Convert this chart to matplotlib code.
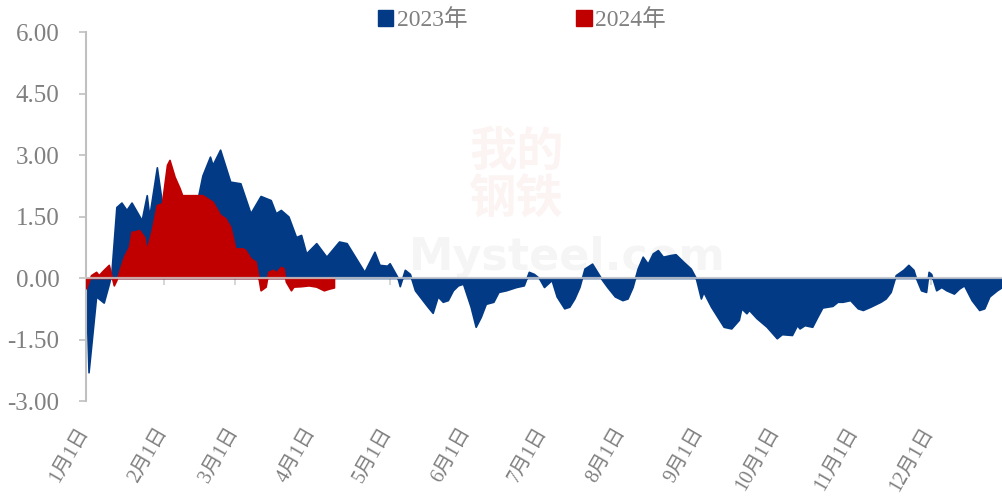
import matplotlib
matplotlib.use("Agg")
import matplotlib.pyplot as plt
import matplotlib.transforms as mtransforms
from matplotlib.patches import Patch
import numpy as np

plt.rcParams['font.family'] = ['Liberation Serif', 'Noto Sans CJK SC', 'DejaVu Sans']

# day-of-year (0 = Jan 1) and values
days_2023 = [0, 1, 4, 7, 9, 10, 12, 14, 16, 18, 22, 24, 25, 28, 30, 33, 36, 40, 44, 46, 49, 50, 53, 57,
             61, 65, 69, 73, 75, 77, 80, 83, 85, 87, 91, 95, 100, 103, 110, 114, 116, 119, 120, 123,
             124, 126, 128, 130, 135, 137, 139, 141, 143, 145, 147, 149, 152, 154, 156, 158, 161, 163,
             166, 170, 173, 175, 177, 179, 181, 184, 186, 189, 191, 193, 195, 197, 200, 202, 204, 206,
             209, 212, 214, 216, 218, 220, 222, 224, 226, 228, 231, 233, 236, 239, 241, 243, 244, 247,
             252, 255, 258, 259, 261, 262, 265, 269, 273, 275, 279, 281, 282, 284, 287, 289, 291, 295,
             297, 299, 302, 305, 307, 310, 314, 316, 318, 320, 323, 325, 327, 328, 330, 332, 333, 334,
             336, 338, 340, 343, 345, 347, 350, 353, 355, 357, 360, 362]
vals_2023 = [-0.25, -2.3, -0.45, -0.6, -0.15, 0.1, 1.73, 1.84, 1.66, 1.84, 1.41, 2.02, 1.5, 2.7, 1.83,
             1.7, 1.75, 1.8, 1.9, 2.5, 2.96, 2.76, 3.13, 2.35,
             2.31, 1.58, 2.0, 1.9, 1.58, 1.66, 1.5, 1.0, 1.05, 0.6, 0.85, 0.52, 0.89, 0.85, 0.15, 0.64,
             0.32, 0.3, 0.36, 0.03,
             -0.2, 0.2, 0.1, -0.3, -0.7, -0.85, -0.45, -0.58, -0.54, -0.3, -0.18, -0.14, -0.7, -1.19,
             -0.95, -0.63, -0.58, -0.34,
             -0.3, -0.22, -0.18, 0.15, 0.1, 0.0, -0.22, -0.05, -0.45, -0.74, -0.7, -0.5, -0.22, 0.23,
             0.35, 0.15, -0.05, -0.22,
             -0.45, -0.54, -0.5, -0.22, 0.23, 0.52, 0.35, 0.6, 0.68, 0.52, 0.56, 0.58, 0.4, 0.23, 0.0,
             -0.5, -0.34, -0.7,
             -1.19, -1.23, -1.02, -0.74, -0.86, -0.78, -0.98, -1.19, -1.47, -1.37, -1.39, -1.15, -1.23,
             -1.15, -1.19, -0.95, -0.72, -0.68,
             -0.58, -0.58, -0.54, -0.74, -0.78, -0.7, -0.58, -0.5, -0.34, 0.07, 0.2, 0.32, 0.2, 0.0,
             -0.3, -0.34, 0.15, 0.1,
             -0.3, -0.22, -0.3, -0.38, -0.26, -0.18, -0.54, -0.78, -0.74, -0.45, -0.3, -0.22]

days_2024 = [0, 2, 4, 5, 7, 9, 11, 12, 15, 17, 18, 19, 21, 23, 24, 26, 28, 30, 32, 33, 35, 37, 38,
             46, 48, 50, 53, 55, 57, 59, 62, 63, 65, 67, 68, 69, 71, 72, 74, 75, 77, 78, 79, 81, 82,
             85, 88, 91, 94, 96, 98]
vals_2024 = [-0.25, 0.07, 0.15, 0.07, 0.2, 0.32, -0.18, -0.05, 0.52, 0.76, 1.13, 1.13, 1.17, 1.0, 0.68,
             1.17, 1.78, 1.82, 2.76, 2.88, 2.47, 2.19, 2.02,
             2.02, 1.94, 1.86, 1.54, 1.46, 1.25, 0.72, 0.72, 0.68, 0.48, 0.4, 0.07, -0.3, -0.21, 0.15,
             0.2, 0.13, 0.27, 0.24, -0.09, -0.3, -0.21,
             -0.2, -0.18, -0.21, -0.3, -0.26, -0.23]

month_start_days = [0, 31, 59, 90, 120, 151, 181, 212, 243, 273, 304, 334]
month_labels = ['1月1日', '2月1日', '3月1日', '4月1日', '5月1日', '6月1日',
                '7月1日', '8月1日', '9月1日', '10月1日', '11月1日', '12月1日']
series_names = ['2023年', '2024年']
y_ticks = [-3.0, -1.5, 0.0, 1.5, 3.0, 4.5, 6.0]

BLUE = '#023A86'
RED = '#C00000'
GRAY_TXT = '#808080'
AX_GRAY = '#c0c0c0'

W, H = 1002, 499
fig = plt.figure(figsize=(W / 100, H / 100), dpi=100)
ax = fig.add_axes([86 / W, 1 - 401 / H, (1002 - 86) / W, (401 - 32) / H])

# watermark
ax.text(0.47, 0.61, '我的\n钢铁', transform=ax.transAxes, ha='center', va='center',
        fontsize=34, color='#d04040', alpha=0.06, fontweight='bold',
        family=['Noto Sans CJK SC'], linespacing=1.0, zorder=0.5)
ax.text(0.525, 0.39, 'Mysteel.com', transform=ax.transAxes, ha='center', va='center',
        fontsize=32, color='#a0a0a0', alpha=0.1, fontweight='bold',
        family=['DejaVu Sans'], zorder=0.5)

ax.fill_between(days_2023, vals_2023, 0, color=BLUE, edgecolor=BLUE, linewidth=1.2, zorder=2)
ax.fill_between(days_2024, vals_2024, 0, color=RED, edgecolor=RED, linewidth=1.2, zorder=3)

ax.set_xlim(0, 362)
ax.set_ylim(-3, 6)

for s in ['top', 'right']:
    ax.spines[s].set_visible(False)
ax.spines['left'].set_color(AX_GRAY)
ax.spines['left'].set_linewidth(1.5)
ax.spines['bottom'].set_position(('data', 0))
ax.spines['bottom'].set_color('#d0d0d0')
ax.spines['bottom'].set_alpha(0.8)
ax.spines['bottom'].set_linewidth(1.6)
ax.spines['bottom'].set_zorder(5)

ax.set_yticks(y_ticks)
ax.set_yticklabels([f'{v:.2f}' for v in y_ticks])
ax.set_xticks(month_start_days)
ax.set_xticklabels(month_labels)

ax.tick_params(axis='y', direction='out', length=5, width=1.2, color=AX_GRAY,
               labelsize=18, labelcolor=GRAY_TXT, pad=14)
ax.tick_params(axis='x', direction='out', length=5, width=1.2, color='#d0d0d0',
               labelsize=14.5, labelcolor=GRAY_TXT, pad=100)
shift = mtransforms.ScaledTranslation(0.07, 0, fig.dpi_scale_trans)
for lab in ax.get_xticklabels():
    lab.set_rotation(60)
    lab.set_ha('right')
    lab.set_va('top')
    lab.set_rotation_mode('default')
    lab.set_transform(lab.get_transform() + shift)

handles = [Patch(facecolor=BLUE, edgecolor=BLUE), Patch(facecolor=RED, edgecolor=RED)]
fig.legend(handles, series_names, loc='center', bbox_to_anchor=(522 / W, 1 - 20 / H), ncol=2,
           frameon=False, fontsize=17, labelcolor=GRAY_TXT, handlelength=0.65, handleheight=0.65,
           handletextpad=0.15, columnspacing=4.6)

fig.savefig('out.png', dpi=100)
